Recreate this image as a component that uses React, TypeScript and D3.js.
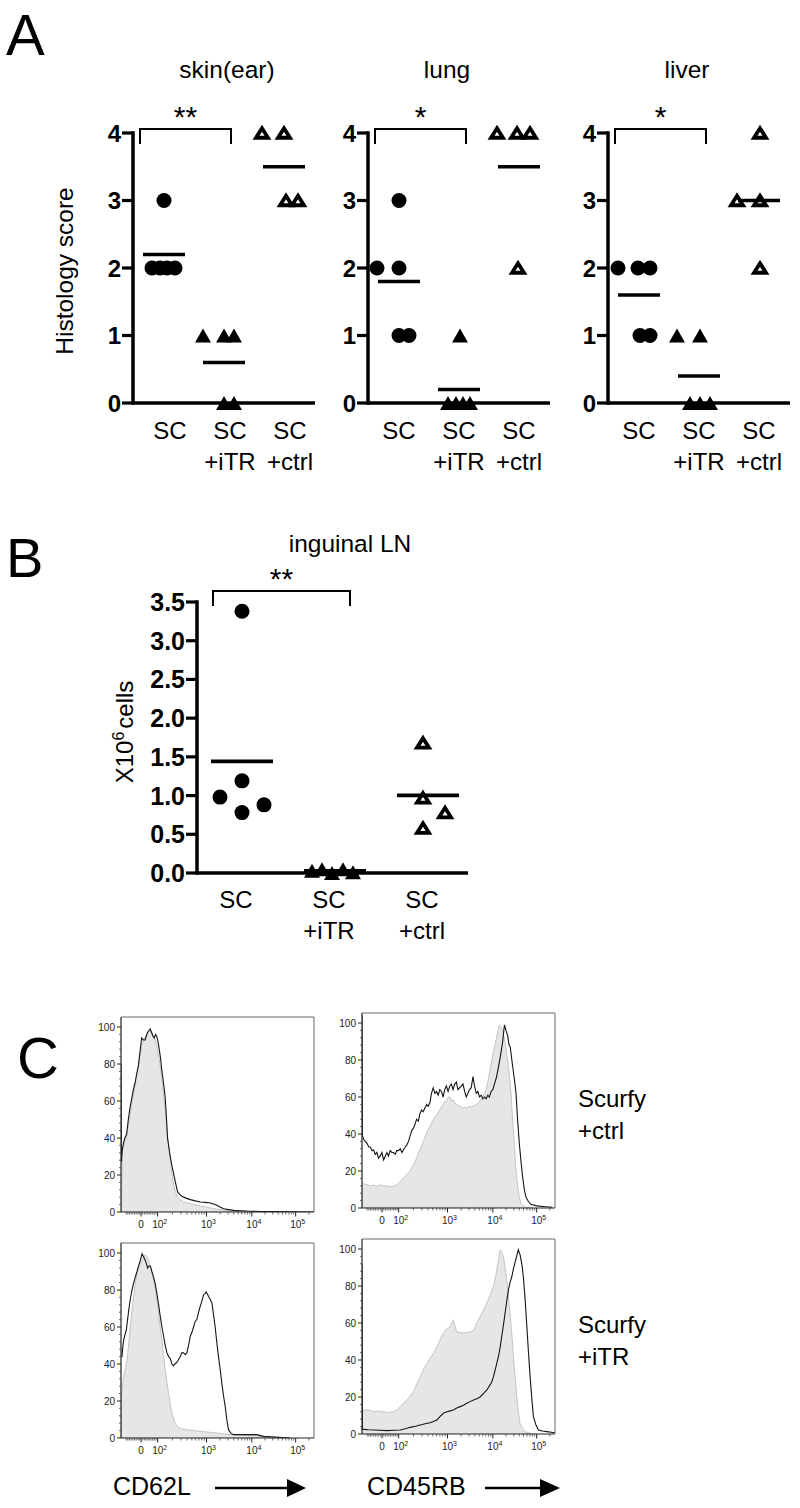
import React from 'react';
import * as d3 from 'd3';

const FONT = "'Liberation Sans', Arial, Helvetica, sans-serif";

// ---------------- Panel A data ----------------
const groupKeys = ['SC', 'SC+iTR', 'SC+ctrl'];
const groupLabelLines = [['SC'], ['SC', '+iTR'], ['SC', '+ctrl']];
const histologyTicks = [0, 1, 2, 3, 4];
const organTitles = ['skin(ear)', 'lung', 'liver'];
const organStars = ['**', '*', '*'];

const skinSC = [3, 2, 2, 2, 2];
const skinSCSpread = [0, -12, -4, 3, 11];
const skinITR = [1, 1, 1, 0, 0];
const skinITRSpread = [-21, 0, 10, 0, 10];
const skinCtrl = [4, 4, 3, 3];
const skinCtrlSpread = [-22, 0, 2, 14];

const lungSC = [3, 2, 2, 1, 1];
const lungSCSpread = [0, -22, 0, 0, 10];
const lungITR = [1, 0, 0, 0, 0];
const lungITRSpread = [1, -11, -3, 4, 11];
const lungCtrl = [4, 4, 4, 2];
const lungCtrlSpread = [-22, -2, 11, -1];

const liverSC = [2, 2, 2, 1, 1];
const liverSCSpread = [-21, -1, 11, 1, 11];
const liverITR = [1, 1, 0, 0, 0];
const liverITRSpread = [-22, 1, -9, 1, 11];
const liverCtrl = [4, 3, 3, 2];
const liverCtrlSpread = [1, -22, 1, 1];

// ---------------- Panel B data ----------------
const lnTitle = 'inguinal LN';
const lnTicks = [0, 0.5, 1, 1.5, 2, 2.5, 3, 3.5];
const lnSC = [3.38, 1.19, 0.98, 0.88, 0.78];
const lnSCSpread = [0, 0, -22, 22, 0];
const lnITR = [0.03, 0.05, 0.0, 0.05, 0.01];
const lnITRSpread = [-23, -13, -3, 8, 18];
const lnCtrl = [1.68, 0.97, 0.78, 0.58];
const lnCtrlSpread = [-5, -5, 17, -5];

// ---------------- Panel C data (channel 0-1000, % of max) ----------------
const flowYTicks = [0, 20, 40, 60, 80, 100];
const flowDecadeExp = ['', '2', '3', '4', '5'];
const flowDecadeChannel = [104, 190, 443, 678, 905];

const cd62lCtrlShaded = [[3,0],[7,33],[18,37],[29,41],[42,49],[55,57],[68,65],[81,73],[94,82],[107,90],[117,93],[126,95],[133,96],[142,97],[151,98],[160,96],[168,95],[177,93],[185,90],[194,85],[203,79],[212,72],[220,64],[229,55],[237,46],[246,37],[255,28],[264,21],[272,15],[282,11],[293,8],[308,6.5],[324,5.4],[360,4.5],[393,3.6],[440,2.7],[480,1.8],[530,1.1],[584,0.5],[650,0.2],[705,0]];
const cd62lCtrlLine = [[0,80],[2,27],[6,33],[12,37],[20,40],[29,42],[38,50],[46,56],[55,61],[64,66],[73,70],[82,75],[90,79],[99,87],[107,94],[116,93],[125,93],[131,95],[137,97],[144,98],[151,99],[155,98],[159,97],[166,95],[172,94],[179,96],[185,95],[192,92],[198,88],[205,83],[211,77],[220,70],[229,62],[236,50],[241,40],[248,35],[255,30],[264,25],[272,21],[282,16],[293,11],[304,9.5],[315,8.5],[337,7.5],[359,6.7],[385,6],[411,5.4],[437,5.2],[463,4.9],[480,4.3],[497,3.6],[515,2.6],[532,1.8],[558,1.3],[584,0.9],[620,0.7],[653,0.5],[720,0.3],[792,0.2],[900,0.1],[1000,0]];

const cd45rbCtrlShaded = [[0,13.5],[9,13],[26,12.6],[43,12],[60,12.4],[77,11.5],[94,12.6],[112,11.8],[129,12],[146,11.5],[163,11.7],[180,12.5],[198,14.4],[215,16],[232,18],[249,20],[266,23],[283,27],[300,31.5],[318,36],[335,40.5],[352,44],[369,47.7],[386,50],[403,53],[420,56],[429,57.6],[438,58],[446,60],[455,60],[463,58],[472,58.5],[480,57],[489,56],[497,55.5],[506,55],[515,54.5],[523,54],[532,54.5],[540,54],[549,54.5],[557,55],[566,54.5],[575,55],[583,55.5],[592,56],[600,56.5],[609,57.6],[618,59],[626,60],[635,62],[643,64],[652,68],[660,73],[669,78],[680,84],[691,89],[703,95],[712,99],[719,98],[726,97],[736,92],[746,87],[759,76],[772,62],[780,48],[789,35],[797,22],[806,12],[815,6],[823,2.7],[836,1.2],[849,0.5],[883,0]];
const cd45rbCtrlLine = [[0,104],[2,39],[9,37],[17,36],[26,35],[35,33],[43,33],[52,31],[60,31.5],[69,29],[77,30],[86,27],[94,28],[103,30],[112,26],[120,28],[129,30],[137,28],[146,31],[155,30],[163,30],[172,29],[180,31],[189,31],[198,32],[207,30],[215,31.5],[224,33],[232,34],[241,36],[249,39],[258,42],[266,43],[274,45],[283,48],[292,47],[300,51],[309,53],[317,52],[326,54],[335,56],[343,55],[352,57],[360,62],[369,65],[378,62],[386,63],[395,61],[403,64],[412,63],[420,60],[429,64],[437,66],[446,63],[455,66],[463,67],[472,64],[480,67],[489,68],[497,64],[506,65],[515,66],[523,67],[532,63],[540,60],[549,62],[557,64],[566,65],[575,71],[583,66],[592,62],[600,63],[609,60],[618,61],[626,59],[635,60],[643,59],[652,61],[660,60],[669,63],[678,64],[686,67],[695,70],[703,74],[712,79],[720,84],[729,90],[738,99],[746,96],[755,93],[762,88],[768,87],[774,82],[780,77],[789,70],[798,62],[806,48],[815,35],[824,25],[832,17],[841,10],[849,6],[862,3.5],[875,2],[900,1.3],[918,1],[950,0.7],[986,0.4]];

const cd62lItrShaded = [[3,24],[9,30],[20,36],[31,42],[40,51],[48,60],[57,69],[66,77],[74,83],[83,89],[92,92],[103,95],[114,97],[126,99],[135,98],[143,96],[152,93],[160,89],[169,85],[178,80],[186,74],[195,67.5],[203,60],[212,53],[220,45],[229,37],[238,30],[247,24],[255,18],[264,13.5],[277,9],[290,6.3],[315,5],[341,4.5],[375,4],[410,3.6],[450,3.2],[497,2.7],[530,2.2],[566,1.8],[620,1.5],[703,1.2],[772,0.5],[876,0]];
const cd62lItrLine = [[2,44],[5,44],[10,50],[14,53],[21,56],[28,58.6],[34,64],[40,69],[48,75],[57,80],[66,84],[74,87],[83,90],[91,93],[100,96],[109,99.6],[117,98],[126,96],[132,94],[138,91.9],[145,93],[152,93],[160,90],[169,87],[178,83],[186,78],[195,72],[203,66],[212,60],[221,55],[229,50],[238,46],[247,44],[255,43],[264,40],[272,39],[279,40],[286,40.5],[296,42],[307,44],[315,46],[324,46],[333,45],[341,46],[350,50],[359,55],[367,57],[376,60],[384,63],[393,64],[402,68],[410,71],[419,74],[428,77.5],[436,78],[441,79],[447,78],[453,76.6],[462,75],[471,73],[479,67],[488,60],[496,52],[505,44],[514,37],[522,30],[531,23],[540,17],[548,10],[557,4.5],[570,2.5],[583,1.8],[640,1.8],[703,1.8],[738,0.9],[876,0]];

const cd45rbItrShaded = [[0,12],[17,13],[34,13],[52,12.5],[69,12],[86,12.5],[103,12],[120,12],[138,11.5],[151,12],[164,12],[181,13],[198,14.8],[215,16.5],[233,18.4],[250,20.5],[267,23],[284,27],[302,31],[319,35],[336,38],[353,41],[371,43.7],[384,46],[397,49],[414,53],[431,56],[444,57],[457,58],[466,60],[474,61.7],[483,58],[491,55],[509,55],[526,54.5],[543,55],[560,55],[578,56],[595,60],[612,63.5],[630,67],[647,70.8],[664,75],[681,79.8],[694,86],[707,94],[716,99.6],[724,98],[733,96],[741,90],[750,83],[758,75],[767,65],[776,54],[784,42],[793,31],[802,20],[810,12],[819,5.8],[832,3],[845,1.3],[866,0.5],[888,0]];
const cd45rbItrLine = [[0,92],[2,2.5],[9,2.5],[34,2.3],[60,2.2],[95,2],[129,1.8],[164,2],[198,2.2],[224,2.8],[250,3.6],[276,4.2],[302,4.9],[327,5.5],[353,6.1],[370,6.8],[388,7.6],[405,9.5],[422,11.2],[440,12],[457,12.5],[474,13],[491,14],[509,14.8],[526,15.5],[543,16.6],[560,17.5],[578,18.4],[595,19],[612,20],[630,22],[647,23.8],[660,26],[672,28],[681,31],[690,34.7],[698,38],[707,41.9],[716,47],[724,52.7],[733,59],[741,65],[750,72],[759,78],[767,82],[776,85],[784,89],[793,92.8],[801,96],[810,99.6],[815,98],[819,97],[828,92],[836,85],[845,73],[853,60],[862,45],[871,31],[880,19],[888,9.4],[901,5],[914,2.2],[935,1.6],[957,1.3],[1000,0.7]];

const rowLabels = [['Scurfy', '+ctrl'], ['Scurfy', '+iTR']];
const markerLabels = ['CD62L', 'CD45RB'];

// ---------------- helpers ----------------
function triPath(cx: number, cy: number, w: number, h: number) {
  const p = d3.path();
  p.moveTo(cx, cy - h / 2);
  p.lineTo(cx + w / 2, cy + h / 2);
  p.lineTo(cx - w / 2, cy + h / 2);
  p.closePath();
  return p.toString();
}

function Marker({ kind, cx, cy }: { kind: number; cx: number; cy: number }) {
  if (kind === 0) return <circle cx={cx} cy={cy} r={7.5} fill="#000" />;
  if (kind === 1) return <path d={triPath(cx, cy, 16, 14)} fill="#000" />;
  return (
    <path d={triPath(cx, cy, 12, 9.5)} fill="#fff" stroke="#000" strokeWidth={3.8} strokeLinejoin="miter" />
  );
}

type GroupData = { values: number[]; spread: number[] };

function DotPanel(props: {
  groups: GroupData[];
  y: d3.ScaleLinear<number, number>;
  x: d3.ScalePoint<string>;
  axisX: number;
  axisEnd: number;
  ticks: number[];
  tickFmt: (v: number) => string;
  tickFont: number;
  meanHalf: number;
  stars: string;
  bracket: [number, number, number];
  labelDx: number;
  labelY: number;
}) {
  const { groups, y, x, axisX, axisEnd, ticks, tickFmt, tickFont, meanHalf, stars, bracket, labelDx, labelY } = props;
  const y0 = y(0);
  const yTop = y(ticks[ticks.length - 1]);
  const [bx1, bx2, by] = bracket;
  return (
    <g>
      <line x1={axisX} x2={axisX} y1={yTop - 1.75} y2={y0 + 1.75} stroke="#000" strokeWidth={3.5} />
      {ticks.map((t) => (
        <g key={t}>
          <line x1={axisX - 11} x2={axisX} y1={y(t)} y2={y(t)} stroke="#000" strokeWidth={3.2} />
          <text x={axisX - 12} y={y(t)} dy="0.36em" textAnchor="end" fontSize={tickFont} fontWeight="bold">
            {tickFmt(t)}
          </text>
        </g>
      ))}
      <line x1={axisX} x2={axisEnd} y1={y0} y2={y0} stroke="#000" strokeWidth={3.5} />
      {groups.map((g, gi) => {
        const cx = x(groupKeys[gi]) as number;
        return (
          <g key={gi}>
            {g.values.map((v, i) => (
              <Marker key={i} kind={gi} cx={cx + g.spread[i]} cy={y(v)} />
            ))}
          </g>
        );
      })}
      {groups.map((g, gi) => {
        const cx = x(groupKeys[gi]) as number;
        const m = d3.mean(g.values) as number;
        return <line key={gi} x1={cx - meanHalf} x2={cx + meanHalf} y1={y(m)} y2={y(m)} stroke="#000" strokeWidth={3.6} />;
      })}
      <path d={`M${bx1},${by + 15}V${by}H${bx2}V${by + 15}`} fill="none" stroke="#000" strokeWidth={2} />
      <text x={(bx1 + bx2) / 2} y={by - 2} textAnchor="middle" fontSize={30}>
        {stars}
      </text>
      {groupLabelLines.map((lines, gi) => (
        <text key={gi} textAnchor="middle" fontSize={24}>
          {lines.map((ln, li) => (
            <tspan key={li} x={(x(groupKeys[gi]) as number) + labelDx} y={labelY + li * 31}>
              {ln}
            </tspan>
          ))}
        </text>
      ))}
    </g>
  );
}

function valueToChannel(v: number) {
  if (Math.abs(v) < 100) return flowDecadeChannel[0] + (v / 100) * (flowDecadeChannel[1] - flowDecadeChannel[0]);
  const lg = Math.log10(v);
  const d = Math.min(Math.floor(lg), 4);
  const i = d - 1;
  const span = flowDecadeChannel[i + 1] - flowDecadeChannel[i];
  return flowDecadeChannel[i] + (lg - d) * span;
}

function FlowPlot({ left, top, shaded, line, id }: { left: number; top: number; shaded: number[][]; line: number[][]; id: string }) {
  const w = 193;
  const h = 195;
  const x = d3.scaleLinear().domain([0, 1000]).range([left, left + w]);
  const y = d3.scaleLinear().domain([0, 100]).range([top + h, top + h - 185]);
  const area = d3
    .area<number[]>()
    .x((d) => x(d[0]))
    .y0(y(0))
    .y1((d) => y(d[1]));
  const ln = d3
    .line<number[]>()
    .x((d) => x(d[0]))
    .y((d) => y(d[1]));
  const minorY = d3.range(0, 101, 4).filter((v) => v % 20 !== 0);
  const minorX: number[] = [];
  for (let v = -90; v < 100; v += 10) if (v !== 0) minorX.push(valueToChannel(v));
  for (let d = 2; d <= 5; d++)
    for (let k = 2; k <= 9; k++) {
      const c = valueToChannel(k * Math.pow(10, d));
      if (c <= 1000) minorX.push(c);
    }
  return (
    <g>
      <defs>
        <clipPath id={id}>
          <rect x={left} y={top} width={w} height={h} />
        </clipPath>
      </defs>
      <g clipPath={`url(#${id})`}>
        <path d={area(shaded) as string} fill="#e6e6e6" stroke="#c4c4c4" strokeWidth={1} />
        <path d={ln(line) as string} fill="none" stroke="#151515" strokeWidth={1.1} />
      </g>
      <path d={`M${left},${top}H${left + w}V${top + h}`} fill="none" stroke="#6a6a6a" strokeWidth={1} />
      <line x1={left} x2={left} y1={top} y2={top + h} stroke="#222" strokeWidth={1.2} />
      <line x1={left} x2={left + w} y1={top + h} y2={top + h} stroke="#222" strokeWidth={1.2} />
      {flowYTicks.map((t) => (
        <g key={t}>
          <line x1={left - 4} x2={left} y1={y(t)} y2={y(t)} stroke="#222" strokeWidth={1} />
          <text x={left - 6} y={y(t)} dy="0.35em" textAnchor="end" fontSize={10} fill="#222">
            {t}
          </text>
        </g>
      ))}
      {minorY.map((t) => (
        <line key={t} x1={left - 2} x2={left} y1={y(t)} y2={y(t)} stroke="#444" strokeWidth={0.8} />
      ))}
      {minorX.map((c, i) => (
        <line key={i} x1={x(c)} x2={x(c)} y1={top + h} y2={top + h + 2.5} stroke="#444" strokeWidth={0.8} />
      ))}
      {flowDecadeChannel.map((c, i) => (
        <g key={i}>
          <line x1={x(c)} x2={x(c)} y1={top + h} y2={top + h + 4.5} stroke="#222" strokeWidth={1} />
          <text x={x(c) + (i === 0 ? 0 : 2)} y={top + h + 16} textAnchor="middle" fontSize={10} fill="#222">
            {i === 0 ? '0' : '10'}
            {i > 0 && (
              <tspan fontSize={7} dy={-4}>
                {flowDecadeExp[i]}
              </tspan>
            )}
          </text>
        </g>
      ))}
    </g>
  );
}

export default function App() {
  const organAxisX = [133, 368, 608];
  const organTitleX = [227, 447, 687];
  const organLabelDx = [6, 0, 0];
  const organGroups: GroupData[][] = [
    [
      { values: skinSC, spread: skinSCSpread },
      { values: skinITR, spread: skinITRSpread },
      { values: skinCtrl, spread: skinCtrlSpread },
    ],
    [
      { values: lungSC, spread: lungSCSpread },
      { values: lungITR, spread: lungITRSpread },
      { values: lungCtrl, spread: lungCtrlSpread },
    ],
    [
      { values: liverSC, spread: liverSCSpread },
      { values: liverITR, spread: liverITRSpread },
      { values: liverCtrl, spread: liverCtrlSpread },
    ],
  ];
  const yA = d3.scaleLinear().domain([0, 4]).range([403, 133]);

  const yB = d3.scaleLinear().domain([0, 3.5]).range([873, 602]);
  const xB = d3.scalePoint<string>().domain(groupKeys).range([242, 428]);
  const lnGroups: GroupData[] = [
    { values: lnSC, spread: lnSCSpread },
    { values: lnITR, spread: lnITRSpread },
    { values: lnCtrl, spread: lnCtrlSpread },
  ];

  return (
    <svg
      width={800}
      height={1508}
      viewBox="0 0 800 1508"
      style={{ position: 'absolute', left: 0, top: 0, display: 'block', background: '#fff' }}
      fontFamily={FONT}
    >
      <rect x={0} y={0} width={800} height={1508} fill="#fff" />

      {/* ---------- A ---------- */}
      <text x={6} y={55} fontSize={58}>A</text>
      <text transform="translate(73,271) rotate(-90)" textAnchor="middle" fontSize={24.5}>
        Histology score
      </text>
      {organTitles.map((t, i) => {
        const ax = organAxisX[i];
        const xA = d3.scalePoint<string>().domain(groupKeys).range([ax + 31, ax + 151]);
        return (
          <g key={t}>
            <text x={organTitleX[i]} y={78} textAnchor="middle" fontSize={24.5}>
              {t}
            </text>
            <DotPanel
              groups={organGroups[i]}
              y={yA}
              x={xA}
              axisX={ax}
              axisEnd={ax + 182}
              ticks={histologyTicks}
              tickFmt={(v) => String(v)}
              tickFont={24}
              meanHalf={21}
              stars={organStars[i]}
              bracket={[ax + 7, ax + 98, 129]}
              labelDx={organLabelDx[i]}
              labelY={439}
            />
          </g>
        );
      })}

      {/* ---------- B ---------- */}
      <text x={6} y={577} fontSize={56}>B</text>
      <text x={350} y={552} textAnchor="middle" fontSize={24.5}>
        {lnTitle}
      </text>
      <text transform="translate(133,732) rotate(-90)" textAnchor="middle" fontSize={24}>
        X10
        <tspan fontSize={16} dy={-9}>6</tspan>
        <tspan dy={9} dx={3}>cells</tspan>
      </text>
      <DotPanel
        groups={lnGroups}
        y={yB}
        x={xB}
        axisX={197}
        axisEnd={468}
        ticks={lnTicks}
        tickFmt={d3.format('.1f')}
        tickFont={25}
        meanHalf={31}
        stars="**"
        bracket={[213, 350, 591]}
        labelDx={-6}
        labelY={908}
      />

      {/* ---------- C ---------- */}
      <text x={17} y={1078} fontSize={58}>C</text>
      <FlowPlot id="fp1" left={121} top={1017} shaded={cd62lCtrlShaded} line={cd62lCtrlLine} />
      <FlowPlot id="fp2" left={362} top={1013} shaded={cd45rbCtrlShaded} line={cd45rbCtrlLine} />
      <FlowPlot id="fp3" left={121} top={1243} shaded={cd62lItrShaded} line={cd62lItrLine} />
      <FlowPlot id="fp4" left={362} top={1239} shaded={cd45rbItrShaded} line={cd45rbItrLine} />

      {rowLabels.map((lines, r) => (
        <text key={r} fontSize={24}>
          {lines.map((l, li) => (
            <tspan key={li} x={578} y={1107 + r * 226 + li * 32}>
              {l}
            </tspan>
          ))}
        </text>
      ))}

      <text x={113} y={1495} fontSize={25}>{markerLabels[0]}</text>
      <line x1={215} x2={290} y1={1488} y2={1488} stroke="#000" strokeWidth={2.5} />
      <path d="M287,1479L306,1488L287,1497Z" fill="#000" />
      <text x={367} y={1495} fontSize={25}>{markerLabels[1]}</text>
      <line x1={485} x2={543} y1={1488} y2={1488} stroke="#000" strokeWidth={2.5} />
      <path d="M540,1479L560,1488L540,1497Z" fill="#000" />
    </svg>
  );
}
